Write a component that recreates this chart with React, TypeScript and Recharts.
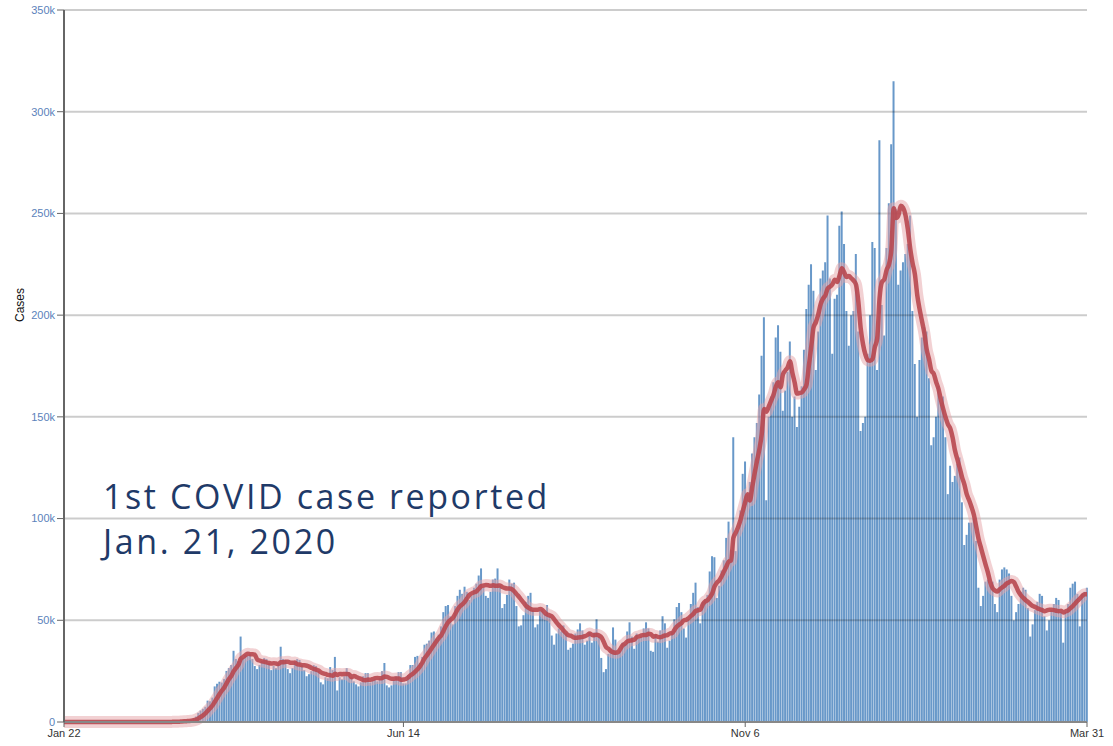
import React from "react";
import { ComposedChart, Bar, Line, XAxis, YAxis, ReferenceLine } from "recharts";

// daily new cases, in thousands, Jan 22 2020 -> Mar 31 2021
const jan2020 = [0, 0, 0, 0, 0, 0, 0, 0, 0, 0];
const feb2020 = [0, 0, 0, 0, 0, 0, 0, 0, 0, 0, 0, 0, 0, 0, 0, 0, 0, 0, 0, 0, 0, 0, 0, 0, 0, 0, 0, 0, 0];
const mar2020 = [0.02, 0.02, 0.03, 0.03, 0.07, 0.08, 0.1, 0.12, 0.2, 0.3, 0.4, 0.5, 0.6, 0.8, 0.8, 1.1, 1.7, 2.7, 4.5, 5.6, 6.5, 7.5, 10.5, 10.2, 12.0, 17.5, 18.8, 19.8, 19.4, 21.2, 25.1];
const apr2020 = [26.5, 28.0, 35.0, 31.0, 30.0, 42.0, 31.5, 33.0, 32.5, 33.5, 31.0, 27.5, 26.0, 28.0, 30.0, 31.5, 31.0, 29.0, 25.5, 27.5, 26.5, 29.0, 37.0, 31.0, 30.5, 26.0, 24.0, 26.5, 29.5, 31.0];
const may2020 = [30.5, 28.0, 25.5, 22.5, 23.5, 25.0, 28.0, 27.5, 25.0, 19.5, 18.5, 22.0, 21.5, 27.0, 25.5, 32.0, 15.5, 22.0, 21.0, 22.5, 26.5, 24.5, 22.0, 20.0, 18.5, 17.5, 19.5, 22.5, 24.0, 24.0, 19.5];
const jun2020 = [20.5, 21.0, 20.0, 21.5, 25.0, 29.0, 18.0, 17.0, 18.0, 20.5, 22.5, 24.5, 24.5, 19.0, 19.0, 23.0, 28.0, 28.0, 32.0, 32.5, 29.0, 32.0, 38.0, 38.5, 40.0, 44.0, 44.5, 41.0, 43.0, 47.0];
const jul2020 = [54, 57, 57.5, 52, 48, 57, 62, 65, 63, 66.5, 64, 60, 62, 66, 68, 72, 75.5, 66, 62, 61, 64, 70, 70.5, 75.5, 67, 56, 58, 62.5, 70, 68, 68.5];
const aug2020 = [57.0, 47.0, 47.5, 52.5, 59.0, 62.0, 63.5, 55.0, 46.5, 48.0, 54.5, 55.5, 53.0, 57.5, 52.0, 42.5, 38.0, 43.5, 46.0, 44.5, 47.5, 43.5, 35.5, 36.5, 38.5, 43.5, 45.5, 48.5, 45.0, 38.0, 40.0];
const sep2020 = [44.0, 39.0, 44.0, 50.5, 42.0, 31.5, 24.5, 26.0, 33.5, 36.0, 46.5, 40.5, 33.5, 35.0, 39.0, 38.5, 44.5, 49.0, 42.0, 36.0, 43.5, 41.0, 42.0, 46.0, 49.0, 46.0, 35.0, 34.5, 43.0, 39.5];
const oct2020 = [45.0, 52.0, 48.5, 36.5, 40.0, 44.5, 50.5, 56.5, 58.5, 54.0, 46.0, 41.5, 50.5, 58.0, 63.5, 68.5, 56.5, 48.5, 59.0, 60.5, 62.5, 74.0, 81.5, 81.0, 61.0, 67.0, 74.5, 79.5, 90.5, 98.5, 84.5];
const nov2020 = [140, 84, 94, 104, 122, 128, 112, 118, 132, 140, 147, 161, 180, 199, 109, 150, 160, 167, 189, 195, 182, 153, 163, 172, 187, 150, 160, 145, 155, 165];
const dec2020 = [183, 203, 215, 225, 212, 173, 192, 218, 222, 226, 249, 218, 181, 208, 210, 244, 251, 235, 202, 185, 200, 202, 230, 192, 143, 147, 150, 181, 200, 236, 233];
const jan2021 = [173, 286, 205, 190, 233, 255, 284, 315, 252, 215, 222, 226, 230, 235, 249, 202, 176, 150, 178, 189, 194, 192, 169, 136, 140, 150, 165, 157, 160, 140, 112];
const feb2021 = [126, 118, 121, 127, 130, 108, 87, 92, 98, 98, 100, 89, 66, 57, 62, 69, 70, 67, 69, 58, 54, 70, 75, 76, 75, 73, 62, 50];
const mar2021 = [54, 58, 64, 66, 65, 56, 42, 48, 55, 59, 63, 62, 52, 45, 50, 55, 58, 61, 60, 54, 39, 54, 58, 66, 68, 69, 63, 47, 63, 64, 66];

const tickDays = [0, 144, 289, 434];
const tickLabels = ["Jan 22", "Jun 14", "Nov 6", "Mar 31"];
const yTicks = [0, 50, 100, 150, 200, 250, 300, 350];

const dailyCases = [
  ...jan2020, ...feb2020, ...mar2020, ...apr2020, ...may2020, ...jun2020, ...jul2020,
  ...aug2020, ...sep2020, ...oct2020, ...nov2020, ...dec2020, ...jan2021, ...feb2021, ...mar2021
];

const start = new Date(2020, 0, 22);

// 7-day trailing average, as in the original chart
const rows = dailyCases.map((cases, i) => {
  const win = dailyCases.slice(Math.max(0, i - 6), i + 1);
  const d = new Date(start.getTime() + i * 86400000);
  return {
    day: i,
    date: d.toDateString(),
    cases,
    avg: win.reduce((a, b) => a + b, 0) / win.length
  };
});

const axisFont = "'Liberation Sans', Arial, sans-serif";

export default function App() {
  return (
    <div style={{ position: "absolute", left: 0, top: 0, width: 1113, height: 746, background: "#fff" }}>
      <ComposedChart
        width={1113}
        height={746}
        data={rows}
        margin={{ top: 10, right: 26, bottom: 0, left: 0 }}
        barCategoryGap={0}
      >
        <XAxis
          dataKey="day"
          type="number"
          domain={[0, 434]}
          ticks={tickDays}
          interval={0}
          tickFormatter={(v: number) => tickLabels[tickDays.indexOf(v)] ?? ""}
          height={24}
          tickSize={5}
          tickMargin={2}
          axisLine={{ stroke: "#888", strokeWidth: 2 }}
          tickLine={{ stroke: "#666" }}
          tick={{ fill: "#333", fontSize: 11, fontFamily: axisFont }}
        />
        <YAxis
          domain={[0, 350]}
          ticks={yTicks}
          interval={0}
          width={64}
          tickSize={7}
          tickMargin={2}
          tickFormatter={(v: number) => (v === 0 ? "0" : `${v}k`)}
          axisLine={{ stroke: "#666", strokeWidth: 2 }}
          tickLine={{ stroke: "#666" }}
          tick={{ fill: "#5b82bb", fontSize: 11, fontFamily: axisFont }}
        />
        <Bar dataKey="cases" fill="#6898c9" barSize={2} isAnimationActive={false} />
        {yTicks.slice(1).map((t) => (
          <ReferenceLine key={t} y={t} stroke="rgba(0,0,0,0.2)" strokeWidth={2} />
        ))}
        <Line
          id="glow"
          dataKey="avg"
          type="monotone"
          stroke="#e6a3a8"
          strokeOpacity={0.5}
          strokeWidth={12}
          dot={false}
          activeDot={false}
          isAnimationActive={false}
        />
        <Line
          id="avg"
          dataKey="avg"
          type="monotone"
          stroke="#b8474f"
          strokeOpacity={0.9}
          strokeWidth={4.5}
          dot={false}
          activeDot={false}
          isAnimationActive={false}
        />
      </ComposedChart>
      <div
        style={{
          position: "absolute",
          left: 20,
          top: 305,
          transform: "translate(-50%, -50%) rotate(-90deg)",
          fontFamily: axisFont,
          fontSize: 12,
          color: "#111"
        }}
      >
        Cases
      </div>
      <div
        style={{
          position: "absolute",
          left: 103,
          top: 474,
          fontFamily: "'Open Sans', sans-serif",
          fontSize: 34,
          lineHeight: "45px",
          letterSpacing: "2.6px",
          color: "#1f3a68",
          whiteSpace: "nowrap"
        }}
      >
        1st COVID case reported
        <br />
        Jan. 21, 2020
      </div>
    </div>
  );
}
